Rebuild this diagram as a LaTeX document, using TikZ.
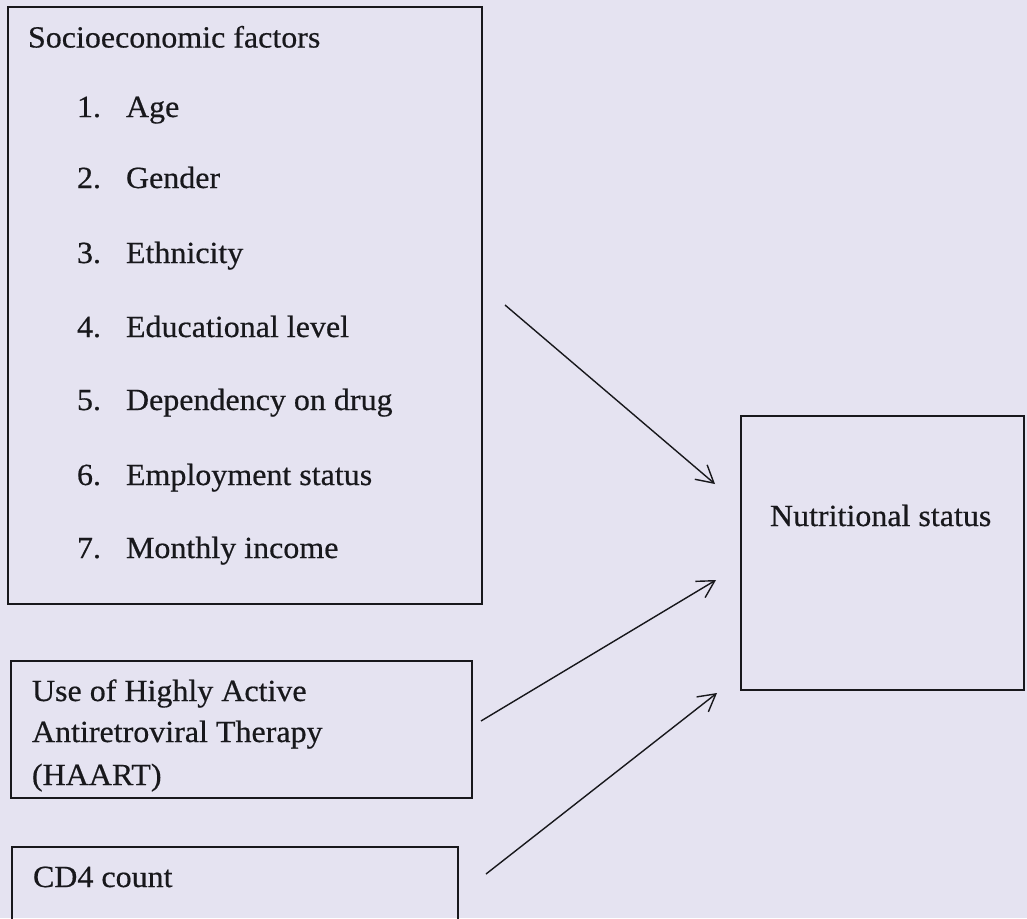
\documentclass[tikz,border=0pt]{standalone}
\usepackage{fontspec}
\setmainfont{Liberation Serif}
\newfontfamily\scanfont[FakeBold=0.5]{Liberation Serif}
\usetikzlibrary{arrows.meta}
\definecolor{paper}{RGB}{229,227,241}
\definecolor{ink}{RGB}{24,24,28}
\begin{document}
\begin{tikzpicture}[x=1pt,y=-1pt,
  box/.style={draw=ink, line width=1.3pt, rectangle, inner sep=0pt, fill=none},
  txt/.style={font=\scanfont\fontsize{32}{38}\selectfont, text=ink, inner sep=0pt, outer sep=0pt, anchor=base west, yscale=0.96},
  arr/.style={draw=ink, line width=1.4pt, -{Straight Barb[length=17pt,width=19pt,line width=1.4pt]}}]
\useasboundingbox (0,0) rectangle (1027,918);
\fill[paper] (0,0) rectangle (1027,918);
\clip (0,0) rectangle (1027,918);
% boxes
\node[box, minimum width=474pt, minimum height=597pt] (socio) at (245,305.5) {};
\node[box, minimum width=461pt, minimum height=137pt] (haart) at (241.5,729.5) {};
\node[box, minimum width=446pt, minimum height=93pt] (cd4) at (235,893.5) {};
\node[box, minimum width=283pt, minimum height=274pt] (nutri) at (882.5,553) {};
% texts
\node[txt] (t0) at (28,47.5) {Socioeconomic factors};
\node[txt] (t1) at (77,117) {\makebox[49pt][l]{1.}Age};
\node[txt] (t2) at (77,188) {\makebox[49pt][l]{2.}Gender};
\node[txt] (t3) at (77,263) {\makebox[49pt][l]{3.}Ethnicity};
\node[txt] (t4) at (77,337) {\makebox[49pt][l]{4.}Educational level};
\node[txt] (t5) at (77,410) {\makebox[49pt][l]{5.}Dependency on drug};
\node[txt] (t6) at (77,485) {\makebox[49pt][l]{6.}Employment status};
\node[txt] (t7) at (77,558) {\makebox[49pt][l]{7.}Monthly income};
\node[txt] (h1) at (32,701) {Use of Highly Active};
\node[txt] (h2) at (32,742) {Antiretroviral Therapy};
\node[txt] (h3) at (32,785) {(HAART)};
\node[txt] (c1) at (33,887) {CD4 count};
\node[txt] (n1) at (770,526) {Nutritional status};
% arrow end points
\coordinate (a1s) at (505,305);
\coordinate (a1e) at (715,484);
\coordinate (a2s) at (481,721);
\coordinate (a2e) at (716,580);
\coordinate (a3s) at (486,874);
\coordinate (a3e) at (717,693);
\draw[arr] (a1s) -- (a1e);
\draw[arr] (a2s) -- (a2e);
\draw[arr] (a3s) -- (a3e);
\end{tikzpicture}
\end{document}
